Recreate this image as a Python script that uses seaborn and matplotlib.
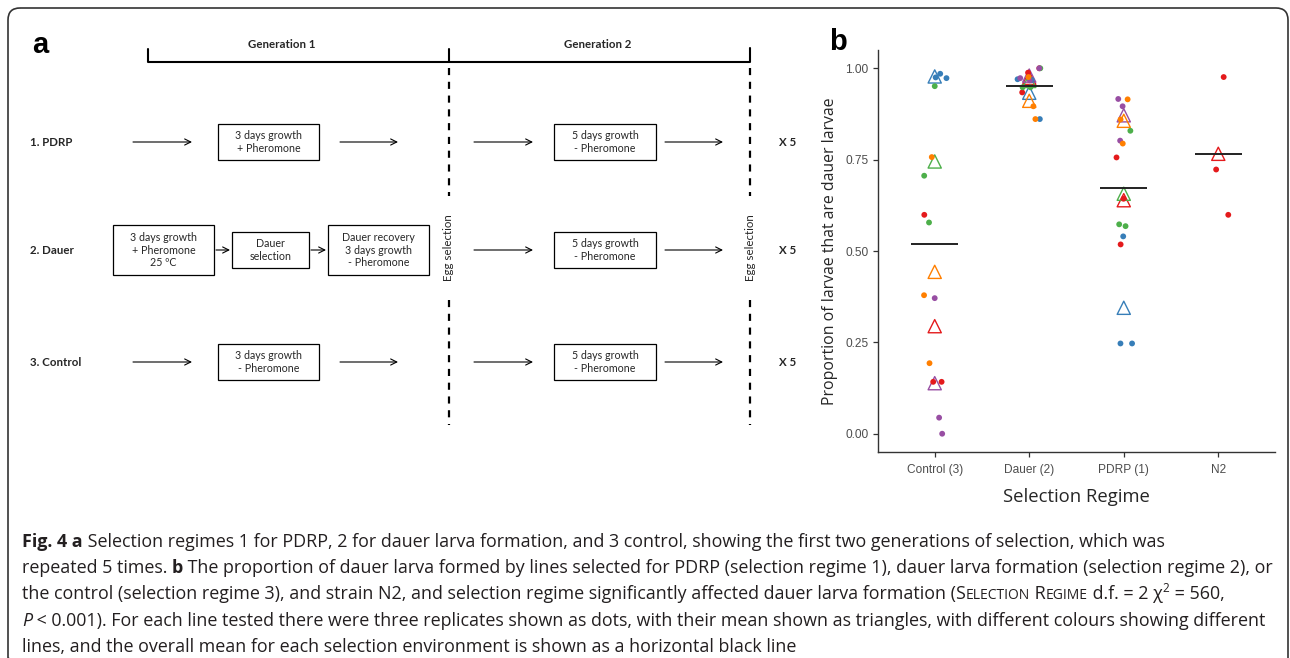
import numpy as np
import pandas as pd
import seaborn as sns
import matplotlib.pyplot as plt
from matplotlib.patches import Rectangle, FancyBboxPatch

# ---- data for panel b (proportion of dauer larvae, 3 replicates per line) ----
regimes = ["Control (3)", "Dauer (2)", "PDRP (1)", "N2"]
line_names = ["line 1", "line 2", "line 3", "line 4", "line 5"]
line_colours = ["#E41A1C", "#377EB8", "#4DAF4A", "#984EA3", "#FF7F00"]

control = [[0.599, 0.142, 0.142], [0.985, 0.973, 0.975], [0.951, 0.706, 0.578],
           [0.371, 0.044, 0.000], [0.757, 0.379, 0.193]]
dauer = [[1.000, 0.934, 0.988], [0.861, 0.970, 0.968], [1.000, 0.948, 0.948],
         [1.000, 0.973, 0.967], [0.861, 0.896, 0.976]]
pdrp = [[0.756, 0.643, 0.518], [0.540, 0.247, 0.247], [0.829, 0.573, 0.568],
        [0.916, 0.896, 0.802], [0.915, 0.860, 0.794]]
n2 = [[0.976, 0.723, 0.599]]

# ---- text for panel a ----
row_labels = ["1. PDRP", "2. Dauer", "3. Control"]
gen_labels = ["Generation 1", "Generation 2"]

rows = []
for regime, lines in zip(regimes, [control, dauer, pdrp, n2]):
    for name, reps in zip(line_names, lines):
        for v in reps:
            rows.append((regime, name, v))
df = pd.DataFrame(rows, columns=["regime", "line", "prop"])
means = df.groupby(["regime", "line"], sort=False)["prop"].mean().reset_index()
overall = means.groupby("regime")["prop"].mean().reindex(regimes)

sns.set_style("ticks")
plt.rcParams["font.family"] = ["Open Sans", "DejaVu Sans"]

fig = plt.figure(figsize=(12.9, 6.58), dpi=100)

# overlay in pixel coordinates for the diagram, frame and caption
ax0 = fig.add_axes([0, 0, 1, 1])
ax0.set_xlim(0, 1290)
ax0.set_ylim(658, 0)
ax0.axis("off")

ax0.add_patch(FancyBboxPatch((8, 8), 1280, 662, boxstyle="round,pad=0,rounding_size=12",
                             fill=False, ec="#333333", lw=1.2))

ax0.text(40, 45, "a", fontsize=21, fontweight="bold", family="Liberation Sans",
         ha="center", va="center", color="k")
ax0.text(838, 42, "b", fontsize=21, fontweight="bold", family="Liberation Sans",
         ha="center", va="center", color="k")

lfont = dict(family=["Lato", "DejaVu Sans"], fontsize=8.3)
dfont = dict(family=["Lato", "DejaVu Sans"], fontsize=7.7)

# generation brackets
ax0.plot([148, 148, 449, 449], [49, 62, 62, 49], color="k", lw=1.5)
ax0.plot([449, 750, 750], [62, 62, 48], color="k", lw=1.5)
ax0.text(282, 44, gen_labels[0], fontweight="bold", ha="center", va="center", **lfont)
ax0.text(598, 44, gen_labels[1], fontweight="bold", ha="center", va="center", **lfont)

# egg selection dashed lines
for xv in [449, 750]:
    ax0.plot([xv, xv], [68, 196], color="k", lw=1.6, ls=(0, (3.2, 3.0)))
    ax0.plot([xv, xv], [300, 425], color="k", lw=1.6, ls=(0, (3.2, 3.0)))
    ax0.text(xv, 248, "Egg selection", rotation=90, ha="center", va="center", **lfont)


def box(x0, x1, y0, y1, txt):
    ax0.add_patch(Rectangle((x0, y0), x1 - x0, y1 - y0, fill=False, ec="k", lw=0.9))
    ax0.text((x0 + x1) / 2, (y0 + y1) / 2, txt, ha="center", va="center",
             linespacing=1.2, **dfont)


def arrow(x0, x1, y):
    ax0.annotate("", xy=(x1, y), xytext=(x0, y),
                 arrowprops=dict(arrowstyle="->", lw=0.8, color="k",
                                 shrinkA=0, shrinkB=0, mutation_scale=11))


row_y = [142, 250, 362]
for lab, y in zip(row_labels, row_y):
    ax0.text(30, y, lab, fontweight="bold", ha="left", va="center", **lfont)
    ax0.text(779, y, "X 5", fontweight="bold", ha="left", va="center", **lfont)
    arrow(474, 533, y)
    arrow(665, 723, y)
    box(554, 656, y - 18, y + 18, "5 days growth\n- Pheromone")

for y, txt in [(142, "3 days growth\n+ Pheromone"), (362, "3 days growth\n- Pheromone")]:
    arrow(133, 192, y)
    box(218, 319, y - 18, y + 18, txt)
    arrow(340, 398, y)

box(113, 214, 225, 275, "3 days growth\n+ Pheromone\n25 ºC")
arrow(216, 230, 250)
box(232, 309, 232, 268, "Dauer\nselection")
arrow(311, 326, 250)
box(328, 429, 225, 275, "Dauer recovery\n3 days growth\n- Pheromone")

# ---- panel b ----
ax = fig.add_axes([878 / 1290, 1 - 452 / 658, 397 / 1290, 402 / 658])
n0 = len(ax.collections)
sns.stripplot(data=means, x="regime", y="prop", hue="line", order=regimes,
              hue_order=line_names, palette=line_colours, marker="^", s=9.5,
              jitter=False, linewidth=1, legend=False, ax=ax, zorder=2)
for coll in ax.collections[n0:]:
    fc = coll.get_facecolors()
    coll.set_edgecolors(fc)
    coll.set_facecolors("none")

np.random.seed(7)
sns.stripplot(data=df, x="regime", y="prop", hue="line", order=regimes,
              hue_order=line_names, palette=line_colours, s=4.2, jitter=0.13,
              linewidth=0, legend=False, ax=ax, zorder=3)

pos = np.arange(len(regimes))
ax.hlines(overall.values, pos - 0.25, pos + 0.25, color="#222222", lw=1.4, zorder=4)

ax.set_xlim(-0.6, 3.6)
ax.set_ylim(-0.05, 1.05)
ax.set_yticks([0, 0.25, 0.5, 0.75, 1.0])
ax.set_yticklabels(["0.00", "0.25", "0.50", "0.75", "1.00"])
ax.tick_params(axis="both", labelsize=8.6, labelcolor="#4d4d4d", color="#333333",
               length=3.5, width=0.9)
ax.tick_params(axis="x", pad=5)
for lab in ax.get_xticklabels() + ax.get_yticklabels():
    lab.set_family("Liberation Sans")
ax.set_xlabel("Selection Regime", fontsize=13.3, labelpad=9)
ax.set_ylabel("Proportion of larvae that are dauer larvae", fontsize=11.4, labelpad=5)
sns.despine(ax=ax)
for sp in ["left", "bottom"]:
    ax.spines[sp].set_linewidth(1.0)
    ax.spines[sp].set_color("#333333")

# ---- caption ----
normal = dict()
bold = dict(fontweight="bold")
ital = dict(style="italic")
sc = dict(fontsize=10.0)
sup = dict(fontsize=8.5)

caption = [
    [("Fig. 4 a", bold), (" Selection regimes 1 for PDRP, 2 for dauer larva formation, and 3 control, "
                          "showing the first two generations of selection, which was", normal)],
    [("repeated 5 times. ", normal), ("b", bold),
     (" The proportion of dauer larva formed by lines selected for PDRP (selection regime 1), "
      "dauer larva formation (selection regime 2), or", normal)],
    [("the control (selection regime 3), and strain N2, and selection regime significantly affected "
      "dauer larva formation (S", normal), ("ELECTION", sc), (" R", normal), ("EGIME", sc),
     (" d.f. = 2 χ", normal), ("2", sup), (" = 560,", normal)],
    [("P", ital), (" < 0.001). For each line tested there were three replicates shown as dots, with "
                   "their mean shown as triangles, with different colours showing different", normal)],
    [("lines, and the overall mean for each selection environment is shown as a horizontal black line",
      normal)],
]

renderer = fig.canvas.get_renderer()
base_y = 547
for i, runs in enumerate(caption):
    x = 22
    y = base_y + i * 26.2
    for txt, style in runs:
        kw = dict(fontsize=12.9, color="#231f20")
        kw.update(style)
        yy = y - 7 if style is sup else y
        t = ax0.text(x, yy, txt, ha="left", va="baseline", **kw)
        x += t.get_window_extent(renderer).width

fig.savefig("out.png", dpi=100)
